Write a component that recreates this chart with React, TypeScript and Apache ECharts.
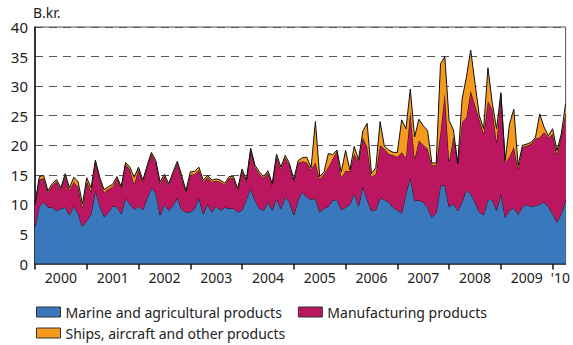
import React, { useEffect, useRef } from "react";
import * as echarts from "echarts";

const seriesNames = [
  "Marine and agricultural products",
  "Manufacturing products",
  "Ships, aircraft and other products",
];

// Monthly values, Jan 2000 – Apr 2010 (B.kr.)
const marine = [
  6.2, 9.7, 10.4, 9.5, 9.5, 8.9, 9.3, 9.5, 8.2, 9.7, 8.4, 6.3,
  7.2, 8.4, 12.4, 9.8, 7.9, 8.6, 9.7, 9.6, 8.4, 11.0, 10.1, 9.1,
  9.7, 9.1, 11.0, 12.8, 11.9, 8.2, 10.0, 9.0, 9.8, 11.1, 9.1, 8.7,
  8.7, 9.3, 11.1, 8.4, 10.1, 8.7, 9.7, 9.0, 9.5, 9.3, 9.3, 8.7,
  9.0, 10.8, 12.7, 10.7, 9.3, 9.0, 10.4, 9.0, 11.0, 9.3, 11.3, 10.4,
  8.2, 10.7, 12.1, 11.2, 10.8, 11.0, 8.7, 9.3, 9.6, 10.7, 10.8, 9.1,
  9.5, 10.0, 11.9, 9.7, 13.0, 10.8, 8.9, 9.1, 11.1, 10.8, 10.4, 9.5,
  9.0, 8.6, 11.8, 14.6, 10.6, 10.7, 10.4, 9.5, 7.8, 8.6, 13.2, 13.2,
  9.6, 10.1, 8.9, 10.4, 12.4, 11.8, 10.4, 8.7, 8.2, 10.8, 10.8, 9.0,
  11.8, 7.8, 9.0, 9.4, 8.3, 9.6, 10.0, 9.6, 9.8, 10.0, 10.4, 9.6,
  8.4, 7.0, 8.4, 10.7,
];

const manufacturing = [
  3.7, 4.5, 4.0, 2.5, 3.7, 5.0, 3.2, 5.4, 4.2, 4.1, 4.6, 3.1,
  6.7, 3.8, 4.8, 4.5, 4.1, 4.0, 3.3, 4.8, 4.3, 5.8, 5.8, 4.3,
  6.3, 4.7, 5.3, 5.7, 5.2, 5.3, 4.8, 4.2, 5.4, 5.9, 5.5, 3.4,
  6.3, 5.8, 4.7, 5.4, 4.5, 5.1, 4.3, 4.8, 3.8, 5.1, 5.1, 3.7,
  6.7, 3.0, 6.5, 5.6, 5.9, 5.4, 5.0, 4.2, 7.1, 6.6, 6.6, 6.2,
  5.7, 6.3, 5.2, 5.9, 5.1, 6.1, 5.5, 5.9, 6.7, 7.0, 8.2, 5.4,
  6.2, 5.6, 6.6, 7.6, 8.3, 8.9, 5.7, 6.1, 8.9, 8.6, 8.1, 8.8,
  9.0, 10.2, 6.1, 11.1, 7.1, 10.1, 9.7, 9.9, 8.8, 8.0, 9.0, 15.5,
  7.7, 11.4, 8.0, 13.5, 12.3, 17.4, 16.4, 15.7, 13.7, 16.7, 15.3, 11.5,
  16.8, 9.3, 9.0, 10.3, 7.7, 10.1, 9.9, 10.6, 11.3, 11.3, 11.8, 11.7,
  13.5, 11.4, 13.2, 14.6,
];

const other = [
  0.2, 0.5, 0.5, 0.3, 0.3, 0.3, 0.3, 0.3, 0.4, 0.8, 0.8, 0.7,
  0.6, 0.6, 0.3, 0.3, 0.5, 0.4, 0.4, 0.3, 0.3, 0.3, 0.4, 1.2,
  0.3, 0.3, 0.3, 0.3, 0.3, 0.3, 0.3, 0.3, 0.3, 0.3, 0.3, 0.2,
  0.5, 0.5, 0.5, 0.3, 0.3, 0.3, 0.3, 0.3, 0.3, 0.3, 0.3, 0.3,
  0.3, 0.3, 0.3, 0.3, 0.3, 0.3, 0.3, 0.3, 0.4, 0.4, 0.4, 0.3,
  0.3, 0.4, 0.6, 0.9, 0.3, 6.9, 0.5, 0.3, 2.3, 0.7, 0.2, 1.0,
  3.4, 0.2, 1.3, 0.3, 1.1, 4.0, 0.6, 1.0, 4.0, 0.4, 0.7, 0.5,
  0.8, 5.5, 4.9, 3.8, 3.7, 3.6, 3.2, 3.1, 0.4, 0.4, 11.6, 6.3,
  6.9, 1.1, 0.0, 3.9, 6.8, 6.9, 3.7, 0.6, 0.9, 5.6, 1.1, 2.3,
  0.3, 0.3, 5.6, 6.4, 0.6, 0.3, 0.3, 0.3, 0.2, 4.0, 0.9, 0.3,
  0.9, 0.7, 0.3, 1.7,
];

const yearLabels = ["2000", "2001", "2002", "2003", "2004", "2005", "2006", "2007", "2008", "2009", "'10"];
const yearLabelPositions = [6, 18, 30, 42, 54, 66, 78, 90, 102, 114, 121.8];

const colors = ["#3a78bd", "#bc1660", "#f59a1c"];
const FONT = "Noto Sans";

export default function App() {
  const ref = useRef<HTMLDivElement>(null);

  useEffect(() => {
    if (!ref.current) return;
    const chart = echarts.init(ref.current, null, { renderer: "svg" });
    const months = marine.map((_, i) => String(i));
    const values = [marine, manufacturing, other];
    const series = values.map((arr, k) => ({
      name: seriesNames[k],
      type: "line",
      stack: "total",
      symbol: "none",
      smooth: false,
      xAxisIndex: 0,
      data: arr,
      lineStyle: { color: "#111", width: 1 },
      itemStyle: { color: colors[k], borderColor: "#222", borderWidth: 1 },
      areaStyle: { color: colors[k], opacity: 1 },
      z: 2 + k,
    }));

    const textStyle = { fontFamily: FONT, fontSize: 14, color: "#222" };

    chart.setOption({
      animation: false,
      textStyle: { fontFamily: FONT },
      grid: {
        left: 35,
        right: 6,
        top: 27,
        bottom: 81.5,
        show: true,
        borderColor: "#555",
        borderWidth: 1,
        backgroundColor: "transparent",
      },
      legend: [
        {
          left: 31,
          top: 300,
          icon: "rect",
          itemWidth: 24,
          itemHeight: 10,
          itemGap: 16,
          data: [seriesNames[0], seriesNames[1]],
          textStyle,
          itemStyle: { borderColor: "#333", borderWidth: 1 },
        },
        {
          left: 31,
          top: 321,
          icon: "rect",
          itemWidth: 24,
          itemHeight: 10,
          data: [seriesNames[2]],
          textStyle,
          itemStyle: { borderColor: "#333", borderWidth: 1 },
        },
      ],
      xAxis: [
        {
          type: "category",
          data: months,
          boundaryGap: false,
          axisLine: { show: true, onZero: false, lineStyle: { color: "#111", width: 1.5 } },
          axisTick: {
            show: true,
            interval: (i: number) => i % 12 === 0,
            length: 6,
            lineStyle: { color: "#111", width: 1.5 },
          },
          axisLabel: { show: false },
          splitLine: { show: false },
        },
        {
          type: "value",
          position: "bottom",
          min: 0,
          max: 123,
          axisLine: { show: false },
          axisTick: { show: false },
          axisLabel: {
            show: true,
            customValues: yearLabelPositions,
            formatter: (v: number) => {
              const idx = yearLabelPositions.indexOf(v);
              return idx >= 0 ? yearLabels[idx] : "";
            },
            ...textStyle,
            margin: 7,
          },
          splitLine: { show: false },
        },
      ],
      yAxis: {
        type: "value",
        min: 0,
        max: 40,
        interval: 5,
        name: "B.kr.",
        nameLocation: "end",
        nameGap: 8,
        nameTextStyle: { ...textStyle, align: "left", padding: [0, 0, 0, -2] },
        axisLine: { show: true, lineStyle: { color: "#111", width: 1.5 } },
        axisTick: { show: false },
        axisLabel: { fontFamily: FONT, fontSize: 15, color: "#222", margin: 7 },
        splitLine: { show: true, lineStyle: { color: "#555", type: [8, 6], width: 1 } },
      },
      series,
    });
    return () => chart.dispose();
  }, []);

  return <div ref={ref} style={{ width: 573, height: 345, position: "absolute", left: 0, top: 0 }} />;
}
